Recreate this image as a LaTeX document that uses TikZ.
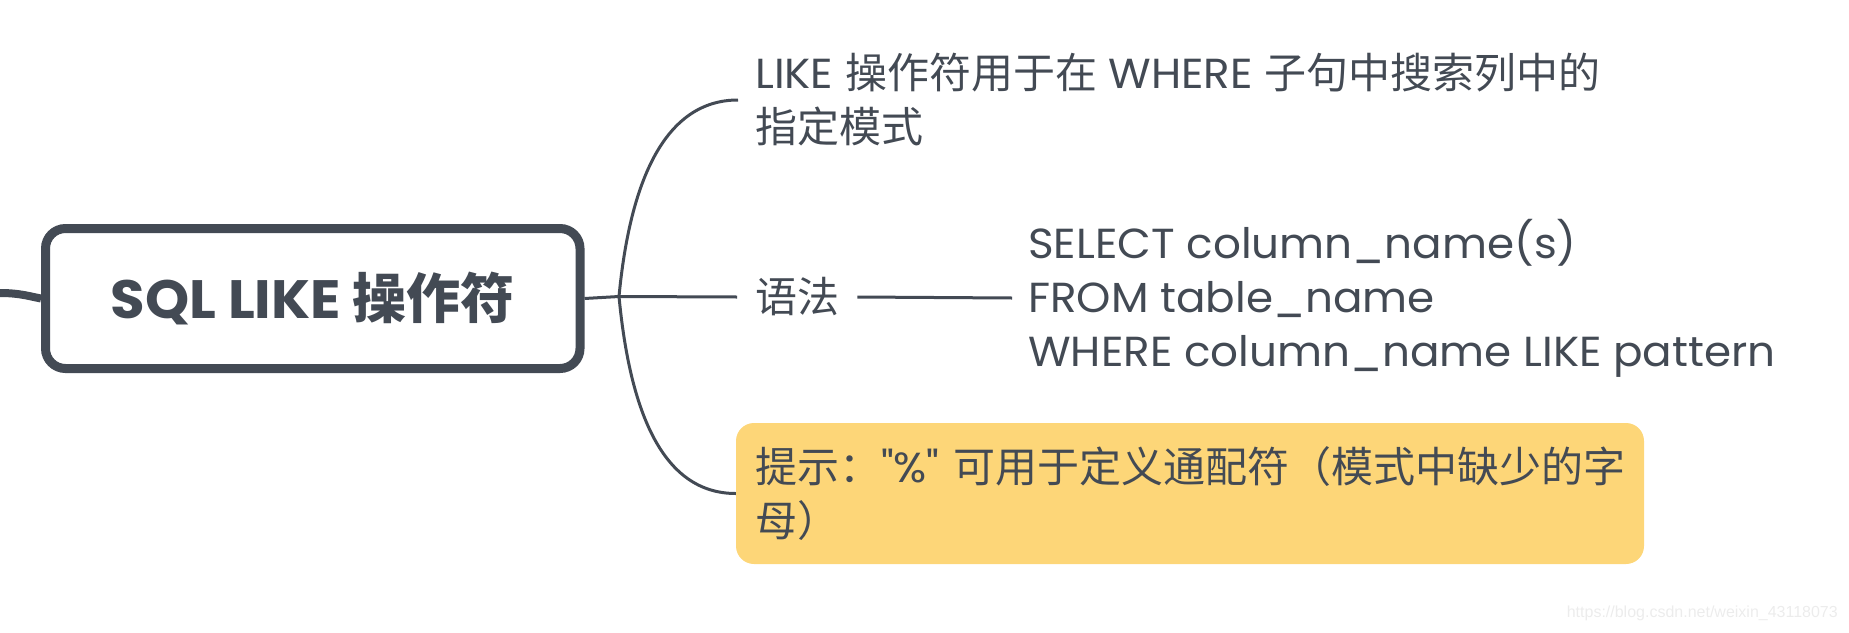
\documentclass[tikz,border=0pt]{standalone}
\usepackage{fontspec}
\setmainfont{Poppins}[Ligatures=TeXOff, FakeStretch=1.04]
\newfontfamily\cjk{Noto Sans CJK SC}
\newfontfamily\wmfont{Liberation Sans}
\usetikzlibrary{calc}
\definecolor{ink}{RGB}{67,74,84}
\definecolor{tipfill}{RGB}{253,214,120}
\definecolor{wm}{RGB}{236,236,236}
\begin{document}
\begin{tikzpicture}[x=1pt,y=-1pt,
  conn/.style={draw=ink, line width=3pt},
  central/.style={draw=ink, line width=9pt, rounded corners=20pt, text=ink,
    minimum width=534.5pt, minimum height=140pt, inner sep=0pt,
    font=\bfseries\fontsize{54}{60}\selectfont},
  topic/.style={text=ink, font=\fontsize{42}{54}\selectfont, align=left,
    inner ysep=0pt, anchor=west},
  tipbox/.style={topic, fill=tipfill, rounded corners=18pt, minimum height=141pt,
    text width=870pt, inner xsep=19pt, anchor=center},
]
\useasboundingbox (0,0) rectangle (1849,632);
\node[central] (root) at (312.75,298.5) {SQL LIKE {\cjk 操作符}};
\node[topic, inner xsep=17pt] (desc) at (738,100)
  {LIKE {\cjk 操作符用于在} WHERE {\cjk 子句中搜索列中的}\\{\cjk 指定模式}};
\node[topic, inner xsep=18pt] (syn) at (737,297) {\cjk 语法};
\node[topic, inner xsep=16pt] (code) at (1012,298)
  {SELECT column\_name(s)\\FROM table\_name\\WHERE column\_name LIKE pattern};
\node[tipbox] (tip) at (1190,493.5)
  {{\cjk 提示：}"\%" {\cjk 可用于定义通配符（模式中缺少的字}\\{\cjk 母）}};
\node[text=wm, font=\wmfont\fontsize{16}{18}\selectfont, anchor=east, inner sep=0pt]
  (wmark) at (1838,613) {https://blog.csdn.net/weixin\_43118073};
\coordinate (lstub) at (0,293);
\coordinate (fork) at (619,296.5);
\draw[ink, line width=8pt] (lstub) .. controls (20,293) and (30,296.5) .. (root.west);
\draw[conn] (root.east) -- (fork);
\draw[conn] (fork) .. controls ($(fork)+(11,-116)$) and ($(desc.west)+(-73,0)$) .. (desc.west);
\draw[conn] (fork) .. controls ($(fork)+(11,116)$) and ($(tip.west)+(-73,0)$) .. (tip.west);
\draw[conn] (fork) -- (syn.west);
\draw[conn] (syn.east) -- (code.west);
\end{tikzpicture}
\end{document}
